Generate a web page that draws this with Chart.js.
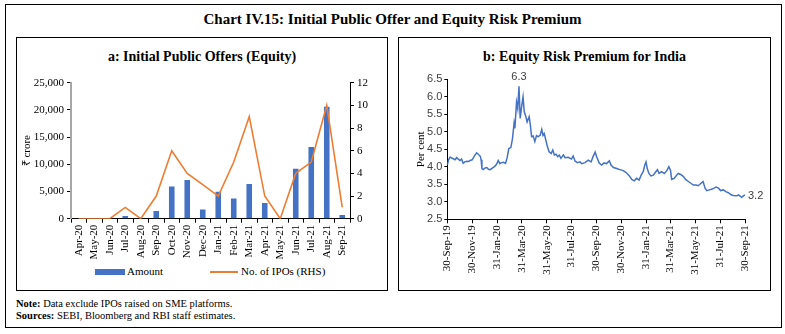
<!DOCTYPE html>
<html>
<head>
<meta charset="utf-8">
<script src="https://cdn.jsdelivr.net/npm/chart.js@4"></script>
<style>
  body { margin: 0; background: #fff; font-family: "Liberation Serif", serif; color: #000; }
  .box { position: absolute; border: 1px solid #000; box-sizing: border-box; }
  .txt { position: absolute; white-space: nowrap; }
  canvas { position: absolute; }
  .title { font-weight: bold; font-size: 15px; left: 0; width: 785px; text-align: center; top: 11px; }
  .sub { font-weight: bold; font-size: 14px; text-align: center; top: 49px; }
  .legend { font-size: 11px; top: 265px; }
  .note { font-size: 10.5px; left: 16px; }
</style>
</head>
<body>
<div class="box" style="left:5px; top:4px; width:777px; height:324px;"></div>
<div class="txt title">Chart IV.15: Initial Public Offer and Equity Risk Premium</div>

<div class="box" style="left:16px; top:37px; width:372px; height:254px;"></div>
<div class="txt sub" style="left:16px; width:372px;">a: Initial Public Offers (Equity)</div>
<canvas id="ipoChart" width="371" height="200" style="left:16px; top:64px;"></canvas>
<div style="position:absolute; left:95px; top:269px; width:30px; height:6px; background:#4472C4;"></div>
<div class="txt legend" style="left:127px;">Amount</div>
<div style="position:absolute; left:210px; top:271px; width:28px; height:1.5px; background:#ED7D31;"></div>
<div class="txt legend" style="left:241px;">No. of IPOs (RHS)</div>

<div class="box" style="left:398px; top:37px; width:373px; height:254px;"></div>
<div class="txt sub" style="left:398px; width:373px;">b: Equity Risk Premium for India</div>
<canvas id="erpChart" width="372" height="212" style="left:398px; top:64px;"></canvas>

<div class="txt note" style="top:298px;"><b>Note:</b> Data exclude IPOs raised on SME platforms.</div>
<div class="txt note" style="top:310px;"><b>Sources:</b> SEBI, Bloomberg and RBI staff estimates.</div>

<script>
// Panel a: monthly IPO amounts (₹ crore) and number of issues
const months = ["Apr-20", "May-20", "Jun-20", "Jul-20", "Aug-20", "Sep-20", "Oct-20", "Nov-20", "Dec-20",
                "Jan-21", "Feb-21", "Mar-21", "Apr-21", "May-21", "Jun-21", "Jul-21", "Aug-21", "Sep-21"];
const ipoAmount = [0, 0, 0, 500, 0, 1400, 5900, 7100, 1700, 4950, 3700, 6400, 2900, 0, 9200, 13200, 20600, 700];
const ipoCount = [0, 0, 0, 1, 0, 2, 6, 4, 3, 2, 5, 9, 2, 0, 4, 5, 10, 1];

// Panel b: equity risk premium, x = days since 30-Sep-2019
const erpDay = [0, 3, 7, 11, 15, 19, 23, 27, 31, 35, 39, 43, 48, 52, 56, 61, 66, 72, 76, 81, 83, 85, 88, 93, 97,
  101, 105, 109, 113, 117, 121, 125, 129, 133, 138, 143, 147, 151, 156, 160, 164, 166, 170, 173, 176, 179, 183,
  186, 189, 193, 196, 201, 204, 207, 211, 215, 219, 223, 228, 232, 235, 238, 242, 246, 250, 255, 259, 263, 267,
  271, 275, 279, 285, 289, 297, 305, 309, 314, 320, 326, 330, 338, 346, 353, 358, 363, 367, 373, 379, 385, 391,
  398, 402, 408, 416, 424, 432, 440, 447, 453, 459, 465, 471, 476, 481, 485, 488, 491, 495, 500, 506, 512, 516,
  520, 526, 533, 539, 544, 548, 551, 557, 563, 567, 573, 580, 585, 592, 598, 604, 611, 616, 623, 628, 633, 637,
  643, 649, 655, 660, 666, 671, 678, 684, 690, 697, 702, 711, 715, 723, 727, 731];
const erpValue = [4.05, 4.2, 4.28, 4.25, 4.23, 4.2, 4.26, 4.22, 4.18, 4.22, 4.1, 4.14, 4.16, 4.15, 4.18, 4.2, 4.3,
  4.4, 4.36, 4.3, 4.2, 3.95, 3.92, 3.97, 3.98, 3.93, 3.92, 3.95, 3.98, 4.02, 4.07, 4.18, 4.09, 4.12, 4.13, 4.1,
  4.26, 4.52, 4.55, 4.8, 5.25, 5.1, 5.85, 5.66, 6.3, 5.38, 5.76, 6.0, 5.57, 5.43, 5.28, 5.43, 5.19, 4.86, 4.88,
  4.72, 4.89, 4.86, 4.9, 5.07, 4.9, 4.95, 4.76, 4.57, 4.43, 4.38, 4.48, 4.34, 4.36, 4.29, 4.33, 4.24, 4.34, 4.26,
  4.27, 4.22, 4.31, 4.16, 4.12, 4.14, 4.09, 4.12, 4.19, 4.14, 4.29, 4.42, 4.28, 4.11, 4.05, 4.11, 4.09, 4.17, 4.05,
  3.98, 3.95, 3.92, 3.89, 3.83, 3.74, 3.64, 3.6, 3.67, 3.62, 3.76, 3.86, 4.05, 4.14, 3.95, 3.81, 3.74, 3.76, 3.86,
  3.92, 3.81, 3.86, 3.81, 3.89, 4.0, 3.9, 3.64, 3.67, 3.76, 3.81, 3.78, 3.72, 3.64, 3.58, 3.53, 3.48, 3.48, 3.46,
  3.53, 3.58, 3.39, 3.32, 3.34, 3.36, 3.39, 3.42, 3.39, 3.32, 3.34, 3.29, 3.26, 3.2, 3.18, 3.17, 3.2, 3.13, 3.17, 3.2];
const erpTickDay = [0, 61, 123, 183, 244, 305, 366, 427, 489, 548, 609, 670, 731];
const erpTickLabel = ["30-Sep-19", "30-Nov-19", "31-Jan-20", "31-Mar-20", "31-May-20", "31-Jul-20", "30-Sep-20",
                      "30-Nov-20", "31-Jan-21", "31-Mar-21", "31-May-21", "31-Jul-21", "30-Sep-21"];

const SERIF = "'Liberation Serif', serif";
const SANS = "'Liberation Sans', sans-serif";
const BLUE = "#4472C4";
const ORANGE = "#ED7D31";

new Chart(document.getElementById("ipoChart"), {
    data: {
        labels: months,
        datasets: [
            {
                type: "line",
                label: "No. of IPOs (RHS)",
                data: ipoCount,
                yAxisID: "y1",
                borderColor: ORANGE,
                borderWidth: 1.6,
                pointRadius: 0,
                tension: 0,
                order: 0
            },
            {
                type: "bar",
                label: "Amount",
                data: ipoAmount,
                yAxisID: "y",
                backgroundColor: BLUE,
                barPercentage: 0.36,
                categoryPercentage: 1,
                order: 1
            }
        ]
    },
    options: {
        responsive: false,
        animation: false,
        layout: { padding: { top: 18.7, left: 0, right: 0, bottom: 0 } },
        plugins: { legend: { display: false }, tooltip: { enabled: false } },
        scales: {
            x: {
                grid: { drawOnChartArea: false, tickLength: 4, color: "#000", offset: true },
                border: { color: "#000" },
                ticks: { autoSkip: false, minRotation: 90, maxRotation: 90, padding: 2, color: "#000",
                         font: { family: SERIF, size: 11 } },
                afterFit: s => { s.height = 45.3; }
            },
            y: {
                position: "left",
                min: 0,
                max: 25000,
                grid: { drawOnChartArea: false, tickLength: 4, color: "#000" },
                border: { color: "#a6a6a6", width: 2 },
                ticks: { stepSize: 5000, padding: 3, color: "#000", font: { family: SERIF, size: 11 },
                         callback: v => v.toLocaleString("en-US") },
                title: { display: true, text: "₹ crore", color: "#000", padding: { top: 5, bottom: 0 },
                         font: { family: SERIF, size: 11 } },
                afterFit: s => { s.width = 55; }
            },
            y1: {
                position: "right",
                min: 0,
                max: 12,
                grid: { drawOnChartArea: false, tickLength: 4, color: "#000" },
                border: { color: "#000" },
                ticks: { stepSize: 2, padding: 3, color: "#000", font: { family: SERIF, size: 11 } },
                afterFit: s => { s.width = 37; }
            }
        }
    }
});

// value labels at the peak and at the last observation
const erpLabels = {
    id: "erpLabels",
    afterDatasetsDraw(chart) {
        const pts = chart.getDatasetMeta(0).data;
        const peakIdx = erpValue.indexOf(Math.max(...erpValue));
        const lastIdx = erpValue.length - 1;
        const ctx = chart.ctx;
        ctx.save();
        ctx.font = "11px " + SANS;
        ctx.fillStyle = "#404040";
        ctx.textAlign = "center";
        ctx.textBaseline = "bottom";
        ctx.fillText(erpValue[peakIdx].toFixed(1), pts[peakIdx].x, pts[peakIdx].y - 4);
        ctx.textAlign = "left";
        ctx.textBaseline = "middle";
        ctx.fillText(erpValue[lastIdx].toFixed(1), pts[lastIdx].x + 3, pts[lastIdx].y + 1);
        ctx.restore();
    }
};

new Chart(document.getElementById("erpChart"), {
    type: "line",
    data: {
        datasets: [{
            label: "Equity Risk Premium",
            data: erpDay.map((d, i) => ({ x: d, y: erpValue[i] })),
            borderColor: BLUE,
            borderWidth: 1.5,
            pointRadius: 0,
            tension: 0
        }]
    },
    options: {
        responsive: false,
        animation: false,
        layout: { padding: { top: 15.3, left: 0, right: 25, bottom: 0 } },
        plugins: { legend: { display: false }, tooltip: { enabled: false } },
        scales: {
            x: {
                type: "linear",
                min: 0,
                max: 731,
                afterBuildTicks: s => { s.ticks = erpTickDay.map(v => ({ value: v })); },
                grid: { drawOnChartArea: false, tickLength: 4, color: "#000" },
                border: { color: "#000" },
                ticks: { autoSkip: false, minRotation: 90, maxRotation: 90, padding: 2, color: "#000",
                         font: { family: SERIF, size: 11 },
                         callback: v => erpTickLabel[erpTickDay.indexOf(v)] },
                afterFit: s => { s.height = 56.7; }
            },
            y: {
                min: 2.5,
                max: 6.5,
                grid: { drawOnChartArea: false, tickLength: 3, color: "#000" },
                border: { color: "#000" },
                ticks: { stepSize: 0.5, padding: 2, color: "#404040", font: { family: SANS, size: 11 },
                         callback: v => v.toFixed(1) },
                title: { display: true, text: "Per cent", color: "#000", padding: { top: 17, bottom: 0 },
                         font: { family: SERIF, size: 11 } },
                afterFit: s => { s.width = 49.3; }
            }
        }
    },
    plugins: [erpLabels]
});
</script>
</body>
</html>
